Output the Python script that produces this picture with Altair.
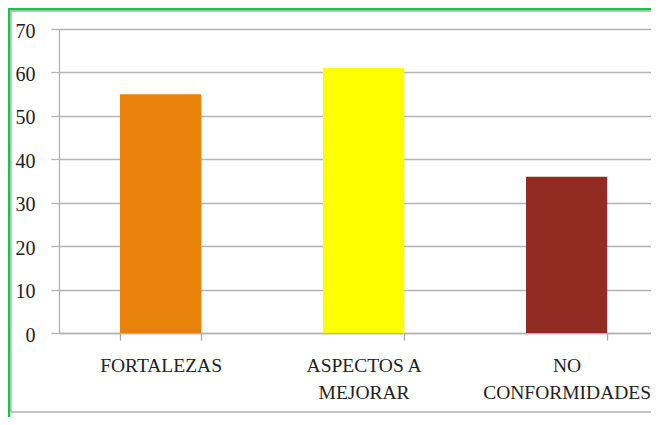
import altair as alt
import pandas as pd

categories = ["FORTALEZAS", "ASPECTOS A|MEJORAR", "NO|CONFORMIDADES"]
values = [55, 61, 36]
colors = ["#E8820A", "#FFFF00", "#922B22"]
y_ticks = [0, 10, 20, 30, 40, 50, 60, 70]

df = pd.DataFrame({"categoria": categories, "valor": values})

FONT = "Liberation Serif"
GRID = "#b3b3b3"

bars = alt.Chart(df).mark_bar().encode(
    x=alt.X(
        "categoria:N",
        sort=categories,
        title=None,
        scale=alt.Scale(paddingInner=0.6, paddingOuter=0.258, align=0.582),
        axis=alt.Axis(
            labelExpr="isValid(datum.value) ? split(datum.value, '|') : ''",
            labelAngle=0,
            tickBand="extent",
            tickSize=7,
            tickColor="#a8a8a8",
            tickWidth=1.3,
            domainColor=GRID,
            domainWidth=1.3,
            labelFont=FONT,
            labelFontSize=19.5,
            labelColor="#222222",
            labelPadding=16,
            labelLineHeight=27,
            grid=False,
        ),
    ),
    y=alt.Y(
        "valor:Q",
        title=None,
        scale=alt.Scale(domain=[0, 70], nice=False),
        axis=alt.Axis(
            values=y_ticks,
            tickSize=8,
            tickColor=GRID,
            tickWidth=1.3,
            domainColor=GRID,
            domainWidth=1.3,
            grid=True,
            gridColor=GRID,
            gridWidth=1.3,
            labelFont=FONT,
            labelFontSize=20,
            labelColor="#222222",
            labelPadding=16,
            labelOffset=2,
        ),
    ),
    color=alt.Color("categoria:N", scale=alt.Scale(domain=categories, range=colors), legend=None),
)

one = alt.Data(values=[{"k": 0}])

gray_left = alt.Chart(one).mark_rule(color="#b0b0b0", strokeWidth=1.3).encode(
    x=alt.value(-48), y=alt.value(-18), y2=alt.value(383)
)
gray_top = alt.Chart(one).mark_rule(color="#b0b0b0", strokeWidth=1.3).encode(
    y=alt.value(-18), x=alt.value(-48), x2=alt.value(620)
)
gray_bottom = alt.Chart(one).mark_rule(color="#b0b0b0", strokeWidth=1.3).encode(
    y=alt.value(383), x=alt.value(-48), x2=alt.value(620)
)
green_left = alt.Chart(one).mark_rule(color="#19c24a", strokeWidth=2.5).encode(
    x=alt.value(-50), y=alt.value(-21), y2=alt.value(420)
)
green_top = alt.Chart(one).mark_rule(color="#19c24a", strokeWidth=2.5).encode(
    y=alt.value(-20), x=alt.value(-51), x2=alt.value(620)
)

chart = alt.layer(bars, gray_left, gray_top, gray_bottom, green_left, green_top).properties(
    width=592,
    height=304,
    autosize=alt.AutoSizeParams(type="none"),
    padding={"left": 51, "top": 21, "right": 0, "bottom": 84},
).configure_view(stroke=None).configure(background="white")

chart.save("out.html", embed_options={"renderer": "svg", "actions": False})
